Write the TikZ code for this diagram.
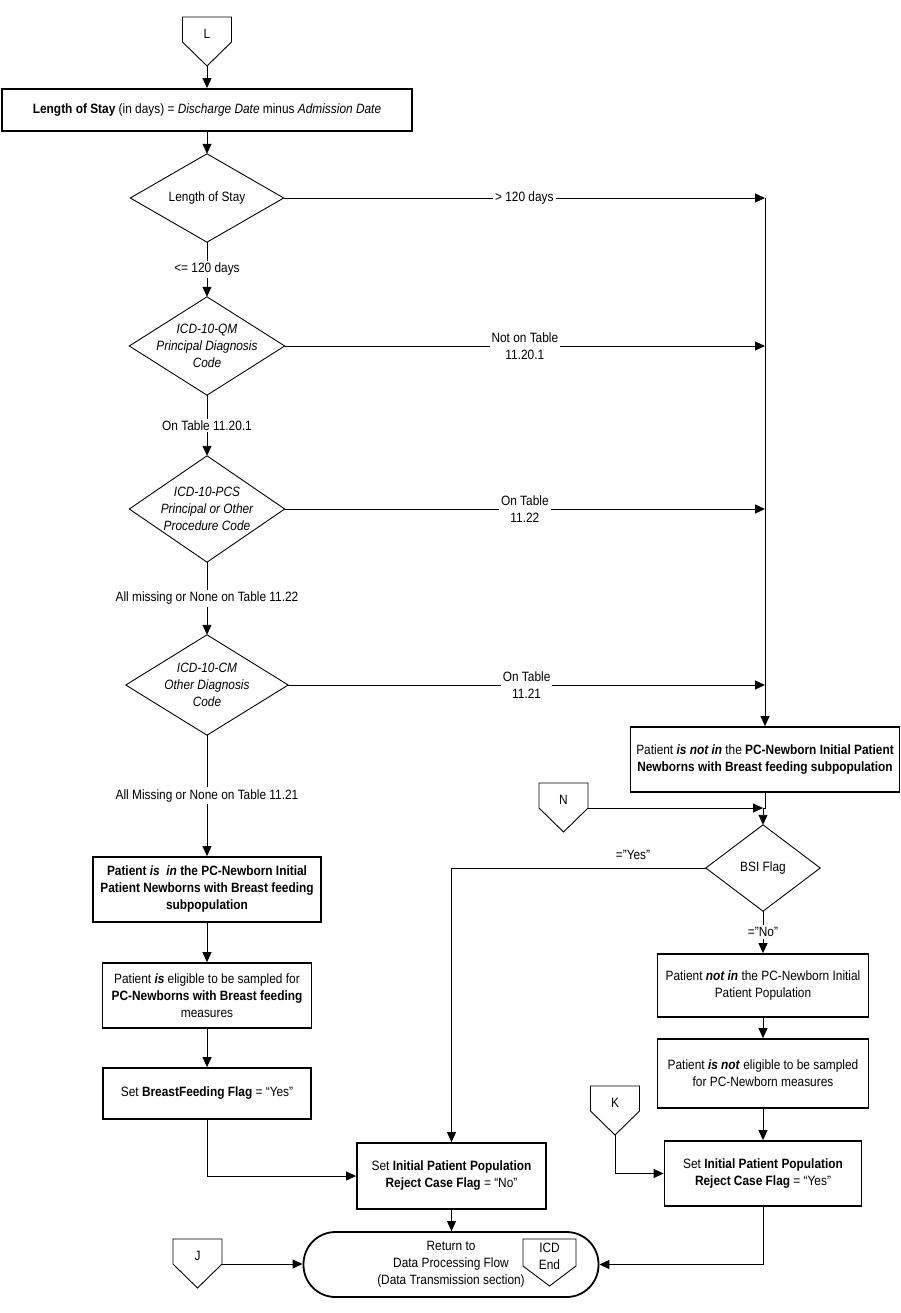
\documentclass[tikz,border=0pt]{standalone}
\usepackage{fontspec}
\setmainfont{Liberation Sans}[FakeStretch=0.88]
\usetikzlibrary{shapes.geometric,arrows.meta}
\newcommand\offpg[4]{%
 \begin{scope}[shift={(#2,#3)}]
 \draw[conn] (-24.5,0) -- (24.5,0) -- (24.5,25) -- (0,49) -- (-24.5,25) -- cycle;
 \node (#1) at (0,17) {#4};
 \coordinate (#1-tip) at (0,49);
 \coordinate (#1-r) at (24.5,25);
 \end{scope}}
\newcommand\diam[1]{\draw[conn] (#1.north) -- (#1.east) -- (#1.south) -- (#1.west) -- cycle;}
\begin{document}
\begin{tikzpicture}[x=1pt,y=-1pt,
 every node/.style={font=\fontsize{13.5}{17}\selectfont, inner sep=0pt, align=center},
 conn/.style={line width=0.9pt},
 arr/.style={conn,-{Triangle[length=10pt,width=9pt]}},
 pbox/.style={draw, line width=1.8pt, rectangle},
 dtext/.style={rectangle, font=\fontsize{13.5}{17}\selectfont\itshape},
 lbl/.style={fill=white, inner sep=2pt},
 term/.style={draw, line width=1.8pt, rectangle, rounded corners=32pt}]
\useasboundingbox (0,0) rectangle (900,1313);
\fill[white] (0,0) rectangle (900,1313);

% off-page connectors
\offpg{L}{207}{17}{L}
\offpg{N}{563.5}{783}{N}
\offpg{K}{615}{1086}{K}
\offpg{J}{197.5}{1239}{J}

% left column
\node[pbox, minimum width=410, minimum height=42] (box1) at (207,110)
 {\textbf{Length of Stay} (in days) = \textit{Discharge Date} minus \textit{Admission Date}};
\node[dtext, minimum width=153, minimum height=88] (d1) at (207,198) {\upshape Length of Stay};
\diam{d1}
\node[dtext, minimum width=155, minimum height=98] (d2) at (207,346) {ICD-10-QM\\Principal Diagnosis\\Code};
\diam{d2}
\node[dtext, minimum width=155, minimum height=106] (d3) at (207,509) {ICD-10-PCS\\Principal or Other\\Procedure Code};
\diam{d3}
\node[dtext, minimum width=162, minimum height=100] (d4) at (207,685) {ICD-10-CM\\Other Diagnosis\\Code};
\diam{d4}
\node[pbox, minimum width=228, minimum height=65] (pin) at (207,889.5)
 {\textbf{Patient \textit{is\ \ in} the PC-Newborn Initial}\\\textbf{Patient Newborns with Breast feeding}\\\textbf{subpopulation}};
\node[pbox, minimum width=209, minimum height=65] (elig) at (207,995.5)
 {Patient \textbf{\textit{is}} eligible to be sampled for\\\textbf{PC-Newborns with Breast feeding}\\measures};
\node[pbox, minimum width=208, minimum height=51] (bf) at (207,1093.5)
 {Set \textbf{BreastFeeding Flag} = “Yes”};
\node[pbox, minimum width=189, minimum height=66] (nobox) at (451.5,1176)
 {Set \textbf{Initial Patient Population}\\\textbf{Reject Case Flag} = “No”};
\node[term, minimum width=295, minimum height=65] (term) at (451,1264.5)
 {Return to\\Data Processing Flow\\(Data Transmission section)};
\draw[conn] (523,1239) -- (576,1239) -- (576,1266) -- (549.5,1286) -- (523,1266) -- cycle;
\node (icdend) at (549.5,1256) {ICD\\End};

% right column
\node[pbox, minimum width=269, minimum height=65] (notin) at (765,759.5)
 {Patient \textbf{\textit{is not in}} the \textbf{PC-Newborn Initial Patient}\\\textbf{Newborns with Breast feeding subpopulation}};
\node[dtext, minimum width=114, minimum height=86] (bsi) at (763,868) {\upshape BSI Flag};
\diam{bsi}
\node[pbox, minimum width=211, minimum height=63] (nipp) at (763,985.5)
 {Patient \textbf{\textit{not in}} the PC-Newborn Initial\\Patient Population};
\node[pbox, minimum width=211, minimum height=69] (nelig) at (763,1073.5)
 {Patient \textbf{\textit{is not}} eligible to be sampled\\for PC-Newborn measures};
\node[pbox, minimum width=197, minimum height=65] (yesbox) at (763,1173.5)
 {Set \textbf{Initial Patient Population}\\\textbf{Reject Case Flag} = “Yes”};

% connectors
\draw[arr] (L-tip) -- (box1.north);
\draw[arr] (box1.south) -- (d1.north);
\draw[arr] (d1.south) -- node[lbl]{<= 120 days} (d2.north);
\draw[arr] (d2.south) -- node[lbl]{On Table 11.20.1} (d3.north);
\draw[arr] (d3.south) -- node[lbl]{All missing or None on Table 11.22} (d4.north);
\draw[arr] (d4.south) -- node[lbl]{All Missing or None on Table 11.21} (pin.north);
\draw[arr] (pin.south) -- (elig.north);
\draw[arr] (elig.south) -- (bf.north);
\draw[arr] (bf.south) |- (nobox.west);
\draw[arr] (nobox.south) -- (nobox.south |- term.north);
\draw[arr] (J-r) -- (J-r -| term.west);

\coordinate (R1) at (765,198);
\draw[arr] (d1.east) -- node[lbl]{> 120 days} (R1);
\draw[arr] (R1) -- (R1 |- notin.north);
\draw[arr] (d2.east) -- node[lbl]{Not on Table\\11.20.1} (d2.east -| R1);
\draw[arr] (d3.east) -- node[lbl]{On Table\\11.22} (d3.east -| R1);
\draw[arr] (d4.east) -- node[lbl]{On Table\\11.21} (d4.east -| R1);

\coordinate (jog) at (763,808);
\draw[conn] (notin.south) -- (notin.south |- jog) -- (jog);
\draw[arr] (jog) -- (bsi.north);
\draw[arr] (N-r) -- (jog);
\draw[arr] (bsi.west) -| (nobox.north);
\node (yeslbl) at (633,855) {=”Yes”};
\draw[arr] (bsi.south) -- node[lbl]{=”No”} (nipp.north);
\draw[arr] (nipp.south) -- (nelig.north);
\draw[arr] (nelig.south) -- (yesbox.north);
\draw[arr] (K-tip) |- (yesbox.west);
\draw[arr] (yesbox.south) |- (term.east);
\end{tikzpicture}
\end{document}
